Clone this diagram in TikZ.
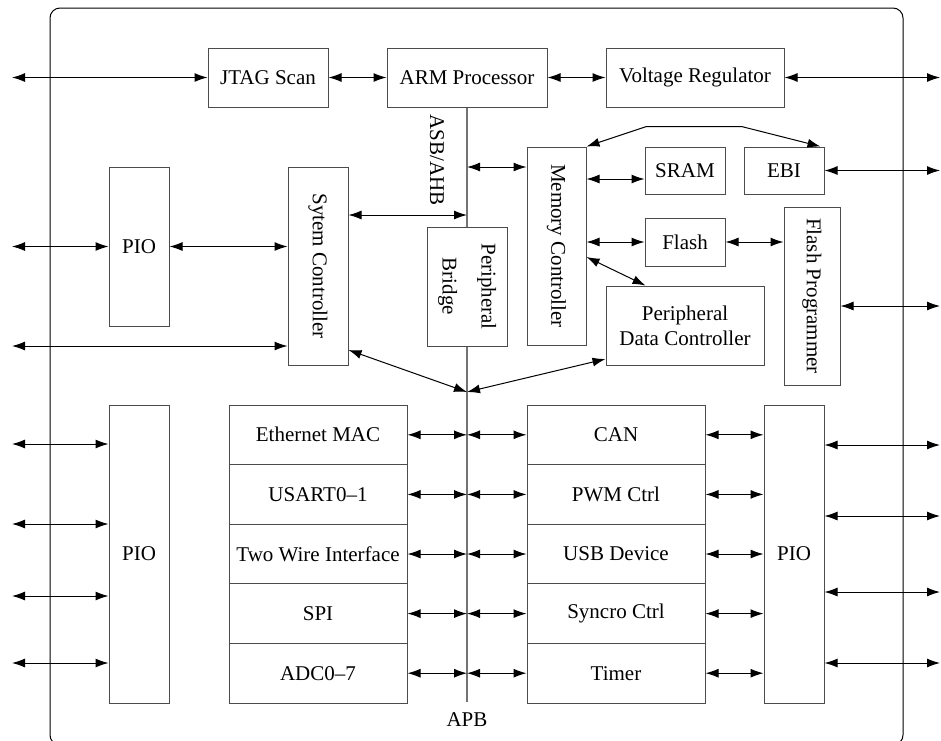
\documentclass[tikz,border=0pt]{standalone}
\usepackage{fontspec}
\setmainfont{Liberation Serif}
\usetikzlibrary{arrows.meta}

\begin{document}
\begin{tikzpicture}[x=0.5pt,y=-0.5pt,
		every node/.style={font=\fontsize{10.5}{12.5}\selectfont},
		blk/.style={draw=black!70,fill=white,line width=0.5pt,inner sep=1pt,align=center},
		sz/.style 2 args={minimum width=#1*0.5pt,minimum height=#2*0.5pt},
		io/.style={{Latex[length=6.5pt,width=4.5pt]}-{Latex[length=6.5pt,width=4.5pt]},line width=0.5pt},
		bus/.style={draw=black!55,line width=1pt}]
		\useasboundingbox (0,0) rectangle (941,740);
		\draw[line width=0.5pt,rounded corners=5pt] (50,8) rectangle (903,745);
		\coordinate (lft) at (12,0);
		\coordinate (rgt) at (940,0);
		\coordinate (apb) at (467,702);
		\coordinate (jn) at (467,392);
		\draw[bus] (467,107) -- (apb);
		\node (apbl) at (467,720) {APB};
		\node[rotate=-90] (asb) at (437,160) {ASB/AHB};
		\node[blk,sz={120}{59}] (jtag) at (268,77.5) {JTAG Scan};
		\node[blk,sz={160}{59}] (arm) at (467,77.5) {ARM Processor};
		\node[blk,sz={178}{59}] (vreg) at (695,77.5) {Voltage Regulator};
		\node[blk,sz={60}{159}] (pioA) at (139,246.5) {PIO};
		\node[blk,sz={60}{198}] (sysc) at (318,266) {\rotatebox{-90}{Sytem Controller}};
		\node[blk,sz={80}{119}] (pbr) at (467,286.5) {\rotatebox{-90}{\begin{tabular}{@{}c@{}}Peripheral\\[7pt]Bridge\end{tabular}}};
		\node[blk,sz={59}{198}] (memc) at (556.5,246) {\rotatebox{-90}{Memory Controller}};
		\node[blk,sz={80}{47}] (sram) at (685,170.5) {SRAM};
		\node[blk,sz={80}{47}] (ebi) at (784,170.5) {EBI};
		\node[blk,sz={80}{48}] (flash) at (685,242) {Flash};
		\node[blk,sz={56}{178}] (fprog) at (812,296) {\rotatebox{-90}{Flash Programmer}};
		\node[blk,sz={158}{79}] (pdc) at (685,325.5) {Peripheral\\Data Controller};
		\node[blk,sz={60}{298}] (pioB) at (139,554) {PIO};
		\node[blk,sz={60}{298}] (pioC) at (794,554) {PIO};
		\foreach \t [count=\i] in {Ethernet MAC,USART0--1,Two Wire Interface,SPI,ADC0--7}
			\node[blk,sz={178}{59.6}] (l\i) at (318,{375.2+59.6*\i}) {\t};
		\foreach \t [count=\i] in {CAN,PWM Ctrl,USB Device,Syncro Ctrl,Timer}
			\node[blk,sz={178}{59.6}] (r\i) at (616,{375.2+59.6*\i}) {\t};
		\foreach \i in {1,...,5}{
			\draw[io] (l\i.east) -- (l\i.east -| apb);
			\draw[io] (r\i.west -| apb) -- (r\i.west);
			\draw[io] (r\i.east) -- (r\i.east -| pioC.west);
		}
		\foreach \y in {444,524,596,663}
			\draw[io] (lft |- 0,\y) -- (pioB.west |- 0,\y);
		\foreach \y in {445,516,592,663}
			\draw[io] (pioC.east |- 0,\y) -- (rgt |- 0,\y);
		\draw[io] (lft |- jtag.west) -- (jtag.west);
		\draw[io] (jtag.east) -- (arm.west);
		\draw[io] (arm.east) -- (vreg.west);
		\draw[io] (vreg.east) -- (rgt |- vreg.east);
		\draw[io] (lft |- pioA.west) -- (pioA.west);
		\draw[io] (pioA.east) -- (sysc.west |- pioA.east);
		\draw[io] (lft |- 0,346) -- (sysc.west |- 0,346);
		\draw[io] (sysc.east |- 0,215) -- (apb |- 0,215);
		\draw[io] (apb |- 0,167) -- (memc.west |- 0,167);
		\draw[io] (memc.east |- 0,179) -- (sram.west |- 0,179);
		\draw[io] (memc.east |- flash.west) -- (flash.west);
		\draw[io] (flash.east) -- (fprog.west |- flash.east);
		\draw[io] (ebi.east) -- (rgt |- ebi.east);
		\draw[io] (fprog.east |- 0,306) -- (rgt |- 0,306);
		\draw[io] (memc.north east) -- ++(60,-20) -- ++(95,0) -- ([xshift=-2pt]ebi.north east);
		\draw[io] (memc.east |- 0,257) -- ([xshift=20pt]pdc.north west);
		\draw[io] (sysc.east |- 0,350) -- (jn);
		\draw[io] (jn) -- (pdc.west |- 0,359);
	\end{tikzpicture}
\end{document}
